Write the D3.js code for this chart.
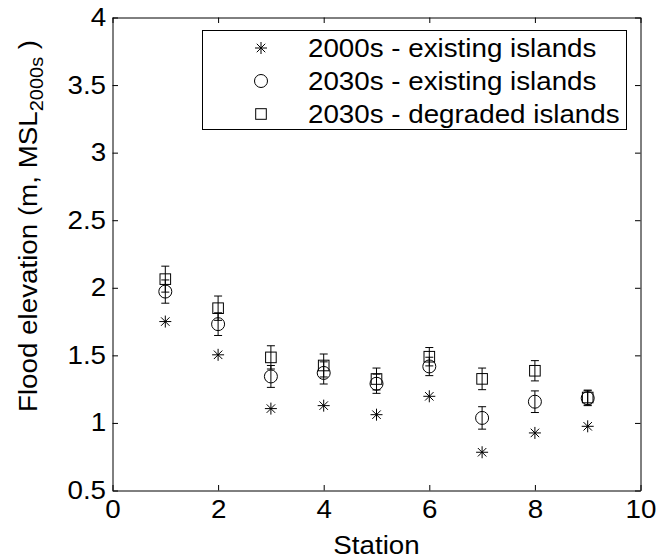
<!DOCTYPE html>
<html>
<head>
<meta charset="utf-8">
<script src="https://cdn.jsdelivr.net/npm/d3@7"></script>
<style>
  html, body { margin: 0; padding: 0; background: #fff; }
  svg { display: block; }
  text { font-family: "Liberation Sans", Arial, sans-serif; fill: #000; }
</style>
</head>
<body>
<svg id="chart" width="657" height="560"></svg>
<script>
// Flood elevation at each station, three scenarios
const stations = [1, 2, 3, 4, 5, 6, 7, 8, 9];
const existing2000s = [1.75, 1.504, 1.106, 1.128, 1.061, 1.197, 0.783, 0.926, 0.975];
const existing2030s = [1.972, 1.731, 1.344, 1.37, 1.29, 1.418, 1.037, 1.157, 1.183];
const existing2030sErr = [0.086, 0.084, 0.081, 0.082, 0.071, 0.068, 0.083, 0.08, 0.055];
const degraded2030s = [2.064, 1.849, 1.485, 1.425, 1.325, 1.49, 1.326, 1.386, 1.188];
const degraded2030sErr = [0.096, 0.09, 0.086, 0.085, 0.081, 0.068, 0.08, 0.075, 0.055];
const legendLabels = ["2000s - existing islands", "2030s - existing islands", "2030s - degraded islands"];
const xTicks = [0, 2, 4, 6, 8, 10];
const yTicks = [0.5, 1, 1.5, 2, 2.5, 3, 3.5, 4];

const svg = d3.select("#chart");
const stretch = 1.11;     // wide sans glyphs
const fs = 25;
const tickLen = 5.5;

const x = d3.scaleLinear().domain([0, 10]).range([112.5, 640.5]);
const y = d3.scaleLinear().domain([0.5, 4]).range([490.5, 17.5]);

// axes box with inward ticks on all four sides
const axBottom = svg.append("g").attr("transform", `translate(0,${y(0.5)})`)
  .call(d3.axisBottom(x).tickValues(xTicks).tickSizeInner(-tickLen).tickSizeOuter(0).tickPadding(9.5).tickFormat(d3.format("d")));
const axTop = svg.append("g").attr("transform", `translate(0,${y(4)})`)
  .call(d3.axisTop(x).tickValues(xTicks).tickSizeInner(-tickLen).tickSizeOuter(0).tickFormat(""));
const axLeft = svg.append("g").attr("transform", `translate(${x(0)},0)`)
  .call(d3.axisLeft(y).tickValues(yTicks).tickSizeInner(-tickLen).tickSizeOuter(0).tickPadding(5.8).tickFormat(d => String(d)));
const axRight = svg.append("g").attr("transform", `translate(${x(10)},0)`)
  .call(d3.axisRight(y).tickValues(yTicks).tickSizeInner(-tickLen).tickSizeOuter(0).tickFormat(""));

[axBottom, axTop, axLeft, axRight].forEach(g => {
  g.attr("font-size", null).attr("font-family", null);
  g.selectAll("path.domain").attr("stroke", "#000").attr("stroke-width", 1);
  g.selectAll(".tick line").attr("stroke", "#000").attr("stroke-width", 1);
  g.selectAll(".tick text")
    .attr("font-size", fs)
    .attr("fill", "#000")
    .attr("transform", `scale(${stretch},1)`);
});

// marker shapes
function asterisk(g, r) {
  const d = r * Math.SQRT1_2;
  g.append("path")
    .attr("d", `M${-r},0H${r}M0,${-r}V${r}M${-d},${-d}L${d},${d}M${-d},${d}L${d},${-d}`)
    .attr("stroke", "#000").attr("stroke-width", 1).attr("fill", "none");
}
function circleMark(g, r) {
  g.append("circle").attr("r", r).attr("fill", "none").attr("stroke", "#000").attr("stroke-width", 1);
}
function squareMark(g, h) {
  g.append("rect").attr("x", -h).attr("y", -h).attr("width", 2 * h).attr("height", 2 * h)
    .attr("fill", "none").attr("stroke", "#000").attr("stroke-width", 1);
}

const plot = svg.append("g");

function errorBars(vals, errs) {
  const cap = 4;
  const g = plot.append("g").attr("stroke", "#000").attr("stroke-width", 1).attr("fill", "none");
  stations.forEach((s, i) => {
    const cx = x(s), y0 = y(vals[i] - errs[i]), y1 = y(vals[i] + errs[i]);
    g.append("path").attr("d",
      `M${cx},${y0}V${y1}M${cx - cap},${y0}H${cx + cap}M${cx - cap},${y1}H${cx + cap}`);
  });
}

errorBars(degraded2030s, degraded2030sErr);
errorBars(existing2030s, existing2030sErr);

stations.forEach((s, i) => {
  asterisk(plot.append("g").attr("transform", `translate(${x(s)},${y(existing2000s[i])})`), 6);
  circleMark(plot.append("g").attr("transform", `translate(${x(s)},${y(existing2030s[i])})`), 6.5);
  squareMark(plot.append("g").attr("transform", `translate(${x(s)},${y(degraded2030s[i])})`), 5.3);
});

// legend
const lg = svg.append("g");
lg.append("rect").attr("x", 202.5).attr("y", 30.5).attr("width", 424).attr("height", 99)
  .attr("fill", "#fff").attr("stroke", "#000").attr("stroke-width", 1);
const rowY = [48, 81, 114];
const markers = [g => asterisk(g, 6), g => circleMark(g, 6.5), g => squareMark(g, 5.3)];
legendLabels.forEach((lab, i) => {
  markers[i](lg.append("g").attr("transform", `translate(261,${rowY[i]})`));
  lg.append("text")
    .attr("transform", `translate(308,${rowY[i]}) scale(${stretch},1)`)
    .attr("dy", "0.36em")
    .attr("font-size", fs)
    .text(lab);
});

// axis titles
svg.append("text")
  .attr("transform", `translate(${x(5)},554) scale(${stretch},1)`)
  .attr("text-anchor", "middle")
  .attr("font-size", fs)
  .text("Station");

const yl = svg.append("text")
  .attr("transform", `translate(37,412) rotate(-90) scale(${stretch},1)`)
  .attr("text-anchor", "start")
  .attr("font-size", fs);
yl.append("tspan").text("Flood elevation (m, MSL");
yl.append("tspan").attr("font-size", 18).attr("dy", 6).text("2000s");
yl.append("tspan").attr("dy", -6).text(" )");
</script>
</body>
</html>
